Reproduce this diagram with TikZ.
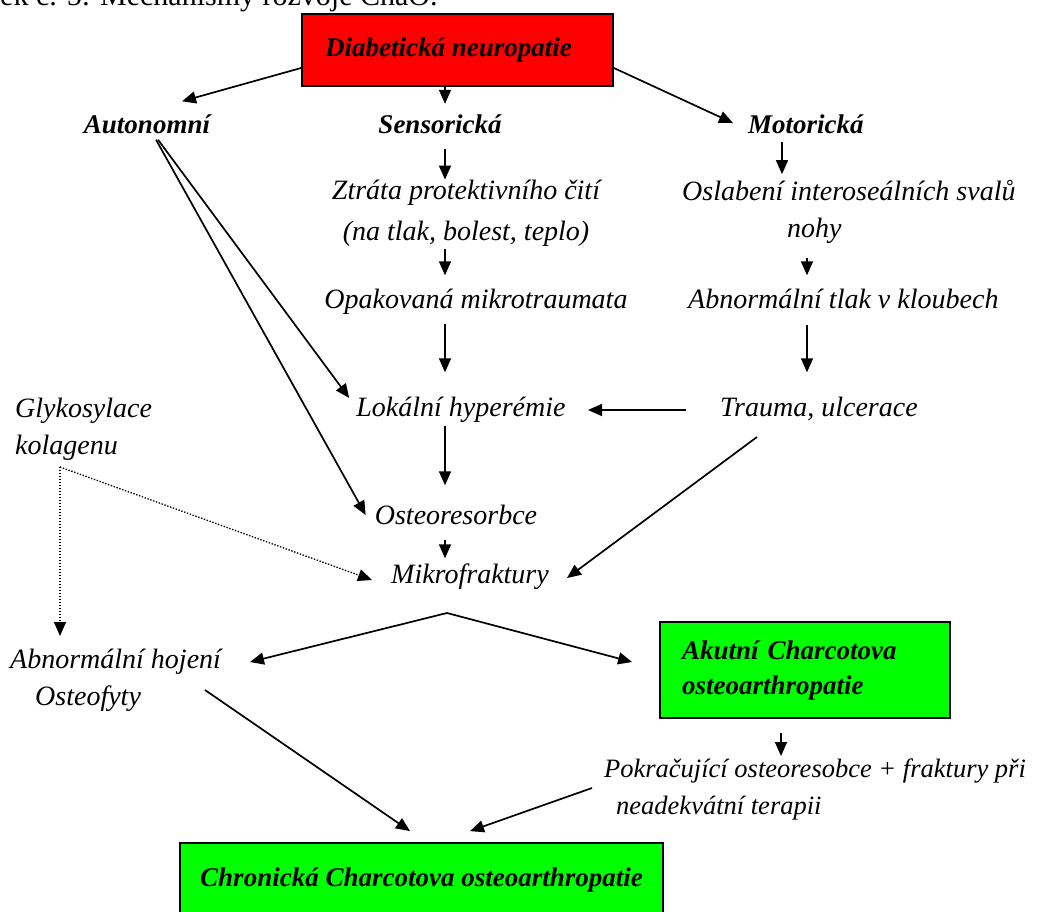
\documentclass[tikz,border=0pt]{standalone}
\usepackage{fontspec}
\setmainfont{Liberation Serif}
\usetikzlibrary{arrows.meta}
\begin{document}
\begin{tikzpicture}[x=1pt,y=-1pt,
  lbl/.style={font=\fontsize{28}{37}\selectfont\itshape, inner sep=0pt},
  one/.style={text height=19pt, text depth=6pt},
  blbl/.style={font=\fontsize{27}{37}\selectfont\bfseries\itshape, inner sep=0pt, text height=19pt, text depth=6pt},
  box/.style={draw=black, line width=1.8pt, font=\fontsize{27}{35}\selectfont\bfseries\itshape},
  arr/.style={-{Triangle[length=14pt,width=12pt]}, line width=1.7pt},
  dotarr/.style={-{Triangle[length=14pt,width=12pt]}, line width=1.3pt, dash pattern=on 1.4pt off 1.6pt}
]
\useasboundingbox (0,0) rectangle (1042,912);
% caption (cut at the top of the page)
\node[anchor=base west, font=\fontsize{30}{34}\selectfont, inner sep=0pt] (cap) at (0,6) {ek č. 5: Mechanismy rozvoje ChaO.};

\node[box, fill=red, minimum width=311pt, minimum height=72pt] (dn) at (457.5,50) {Diabetická neuropatie\hspace*{18pt}};

\node[blbl] (auto) at (147,127) {Autonomní};
\node[blbl] (sens) at (440,127) {Sensorická};
\node[blbl, anchor=west] (mot) at (748,127) {Motorická};

\node[lbl, align=center, font=\fontsize{28}{41}\selectfont\itshape] (ztr) at (466,213) {Ztráta protektivního čití\\(na tlak, bolest, teplo)};
\node[lbl, one] (opak) at (476,302) {Opakovaná mikrotraumata};
\node[lbl, one] (lok) at (461,410) {Lokální hyperémie};
\node[lbl, one] (ost) at (456,518) {Osteoresorbce};
\node[lbl, one] (mik) at (470,577) {Mikrofraktury};

\node[lbl, align=left, anchor=west] (osl) at (682,212) {Oslabení interoseálních svalů\\\hspace*{105pt}nohy};
\node[lbl, one, anchor=west] (abn) at (688,302) {Abnormální tlak v kloubech};
\node[lbl, one, anchor=west] (tra) at (720,410) {Trauma, ulcerace};

\node[lbl, align=left, anchor=west] (gly) at (15,429) {Glykosylace\\kolagenu};
\node[lbl, align=left, anchor=west] (hoj) at (10,680) {Abnormální hojení\\\hspace*{25pt}Osteofyty};

\node[box, fill=green, minimum width=290pt, minimum height=96pt, text width=246pt, inner xsep=22pt, align=left] (ak) at (805,670) {Akutní Charcotova\\osteoarthropatie};
\node[lbl, align=left, anchor=west, font=\fontsize{26.5}{37}\selectfont\itshape] (pok) at (604,789) {Pokračující osteoresobce + fraktury při\\\hspace*{12pt}neadekvátní terapii};
\node[box, fill=green, minimum width=483pt, minimum height=74pt] (chr) at (421.5,880) {Chronická Charcotova osteoarthropatie};

% connectors from the top box
\draw[arr] ([yshift=-18pt]dn.west) -- ([xshift=35pt,yshift=13pt]auto.north);
\draw[arr] ([xshift=-12.5pt,yshift=2pt]dn.south) -- ([xshift=5pt,yshift=10.5pt]sens.north);
\draw[arr] ([yshift=-18pt]dn.east) -- ([xshift=-15pt,yshift=4pt]mot.west);

% sensory chain (x = 445)
\draw[arr, shorten <=9pt] ([xshift=5pt]sens.south) -- ([xshift=5pt]sens.south |- ztr.north);
\draw[arr, shorten <=3pt, shorten >=14pt] ([xshift=5pt]sens.south |- ztr.south) -- ([xshift=5pt]sens.south |- opak.north);
\draw[arr, shorten <=9pt, shorten >=25pt] ([xshift=5pt]sens.south |- opak.south) -- ([xshift=5pt]sens.south |- lok.north);
\draw[arr, shorten <=3pt, shorten >=20pt] ([xshift=5pt]sens.south |- lok.south) -- ([xshift=5pt]sens.south |- ost.north);
\draw[arr, shorten <=9pt, shorten >=6pt] ([xshift=5pt]sens.south |- ost.south) -- ([xshift=5pt]sens.south |- mik.north);

% motor chain
\draw[arr, shorten <=2pt, shorten >=6pt] ([xshift=34pt]mot.south west) -- ([xshift=34pt]mot.south west |- osl.north);
\draw[arr, shorten <=14pt, shorten >=14pt] ([xshift=125pt]osl.south west) -- ([xshift=125pt]osl.south west |- abn.north);
\draw[arr, shorten <=10pt, shorten >=25pt] ([xshift=119pt]abn.south west) -- ([xshift=119pt]abn.south west |- tra.north);
\draw[arr] ([xshift=-34pt]tra.west) -- ([xshift=127pt]lok.center);

% autonomic arrows
\draw[arr] ([xshift=11pt]auto.south) -- ([xshift=-7pt,yshift=12pt]lok.west);
\draw[arr] ([xshift=9pt]auto.south) -- ([xshift=-9pt,yshift=3pt]ost.west);

% trauma to microfractures
\draw[arr] ([xshift=37pt,yshift=-27pt]tra.west) -- ([xshift=97pt,yshift=-1pt]mik.center);

% glycosylation (dotted)
\coordinate (gc) at ([xshift=45pt,yshift=-38pt]gly.west);
\draw[dotarr] (gc) -- ([xshift=-98pt,yshift=-3pt]mik.center);
\draw[dotarr] (gc) -- ([xshift=50pt,yshift=44pt]hoj.west);

% microfractures split
\coordinate (mb) at ([xshift=-23pt,yshift=-36pt]mik.center);
\draw[arr] (mb) -- ([xshift=240pt,yshift=18pt]hoj.west);
\draw[arr] (mb) -- ([xshift=-27pt,yshift=8pt]ak.west);

% acute to continuing
\draw[arr] ([xshift=-24pt,yshift=-14pt]ak.south) -- ([xshift=177pt,yshift=33pt]pok.west);

% to chronic
\draw[arr] ([xshift=195pt,yshift=-10pt]hoj.west) -- ([xshift=-11.5pt,yshift=11pt]chr.north);
\draw[arr] ([xshift=-12pt,yshift=1pt]pok.west) -- ([xshift=48.5pt,yshift=11pt]chr.north);
\end{tikzpicture}
\end{document}
